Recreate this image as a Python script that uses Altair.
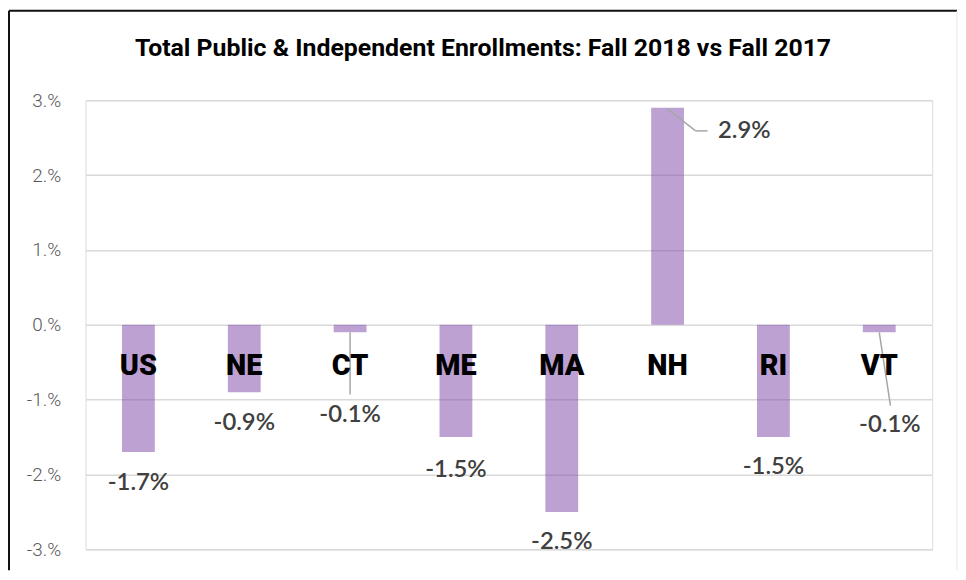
import altair as alt
import pandas as pd

# ---- data ----
title_text = "Total Public & Independent Enrollments: Fall 2018 vs Fall 2017"
states = ["US", "NE", "CT", "ME", "MA", "NH", "RI", "VT"]
changes = [-1.7, -0.9, -0.1, -1.5, -2.5, 2.9, -1.5, -0.1]
value_labels = [f"{v:.1f}%" for v in changes]
y_ticks = [-3, -2, -1, 0, 1, 2, 3]

# ---- annotation placement (category index units / value units) ----
label_x = [0, 1, 2, 3, 4, 5.725, 6, 7.1]
label_y = [-2.11, -1.31, -1.21, -1.94, -2.9, 2.59, -1.9, -1.34]
leader_x = [2.0, 5.0, 5.265, 7.0]
leader_y = [-0.1, 2.88, 2.59, -0.1]
leader_x2 = [2.0, 5.265, 5.378, 7.106]
leader_y2 = [-0.93, 2.59, 2.59, -1.08]

df = pd.DataFrame({
    "state": states,
    "change": changes,
    "idx": list(range(len(states))),
    "label": value_labels,
    "lx": label_x,
    "ly": label_y,
})
lead_df = pd.DataFrame({"x": leader_x, "y": leader_y, "x2": leader_x2, "y2": leader_y2})
frame_df = pd.DataFrame({"t": [title_text]})

x_scale = alt.Scale(domain=[-0.5, 7.5], nice=False, zero=False)
y_scale = alt.Scale(domain=[-3, 3], nice=False)

base = alt.Chart(df)

bars = base.transform_calculate(
    x0="datum.idx - 0.155", x1="datum.idx + 0.155"
).mark_bar(color="#7B43A7", opacity=0.5).encode(
    x=alt.X("x0:Q", scale=x_scale, axis=None),
    x2="x1:Q",
    y=alt.Y(
        "change:Q",
        scale=y_scale,
        axis=alt.Axis(
            values=y_ticks,
            labelExpr="datum.value + '.%'",
            title=None,
            grid=True,
            domain=False,
            ticks=False,
            tickSize=0,
            labelPadding=25,
            gridColor="#D9D9D9",
            gridWidth=1.5,
            labelFont="Roboto",
            labelFontSize=19,
            labelFontWeight=300,
            labelColor="#595959",
        ),
    ),
    y2=alt.datum(0),
)

cats = base.mark_text(
    font="Roboto", fontSize=29, fontWeight=900, color="black", baseline="middle"
).encode(
    x=alt.X("idx:Q", scale=x_scale, axis=None),
    y=alt.datum(-0.55),
    text="state:N",
)

leaders = alt.Chart(lead_df).mark_rule(color="#A6A6A6", strokeWidth=1.5).encode(
    x=alt.X("x:Q", scale=x_scale, axis=None),
    x2="x2:Q",
    y=alt.Y("y:Q", scale=y_scale),
    y2="y2:Q",
)

vals = base.mark_text(
    font="Lato", fontSize=24, fontWeight=600, color="#404040", baseline="middle"
).encode(
    x=alt.X("lx:Q", scale=x_scale, axis=None),
    y=alt.Y("ly:Q", scale=y_scale),
    text="label:N",
)

frame = alt.Chart(frame_df)
title_mark = frame.mark_text(
    font="Roboto", fontSize=25, fontWeight="bold", color="black",
    align="center", baseline="alphabetic",
).encode(x=alt.value(400), y=alt.value(-44), text="t:N")
top_line = frame.mark_rule(color="#111111", strokeWidth=2).encode(
    x=alt.value(-77), x2=alt.value(877), y=alt.value(-90)
)
left_line = frame.mark_rule(color="#111111", strokeWidth=2).encode(
    x=alt.value(-77), y=alt.value(-90), y2=alt.value(473)
)
right_line = frame.mark_rule(color="#E6E6E6", strokeWidth=1).encode(
    x=alt.value(877), y=alt.value(-90), y2=alt.value(473)
)

chart = alt.layer(
    bars, leaders, cats, vals, title_mark, top_line, left_line, right_line
).properties(
    width=852,
    height=452,
    autosize=alt.AutoSizeParams(type="none"),
    padding={"left": 78, "top": 91, "right": 26, "bottom": 21},
).configure_view(stroke=None).configure(background="white")

chart.save("out.html", embed_options={"renderer": "svg", "actions": False})
